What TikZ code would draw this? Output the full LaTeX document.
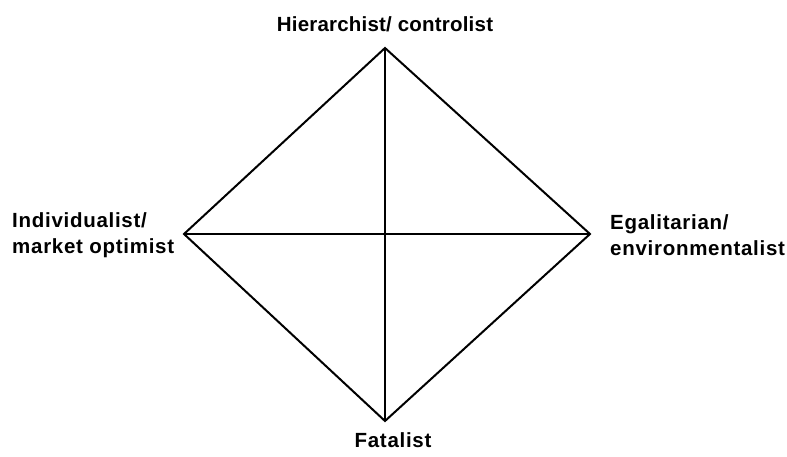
\documentclass[tikz,border=0pt]{standalone}
\usepackage{fontspec}
\setmainfont{Liberation Sans}
\newfontfamily\widebold[LetterSpace=3.5]{Liberation Sans}
\newfontfamily\topbold[LetterSpace=1]{Liberation Sans}
\begin{document}
\begin{tikzpicture}[x=1pt,y=-1pt,
  lbl/.style={font=\fontsize{20.5}{26}\selectfont\widebold\bfseries, inner sep=0pt, align=left},
  toplbl/.style={lbl, font=\fontsize{20.5}{26}\selectfont\topbold\bfseries},
  edge/.style={line width=2pt, line join=miter}]
\useasboundingbox (0,0) rectangle (787,457);
\coordinate (T) at (385,48);
\coordinate (L) at (184,234);
\coordinate (R) at (590,234);
\coordinate (B) at (385,421);
\draw[edge] (T) -- (R) -- (B) -- (L) -- cycle;
\draw[edge] (T) -- (B);
\draw[edge] (L) -- (R);
\node[toplbl, anchor=base] (hier) at (385,32) {Hierarchist/ controlist};
\node[lbl, anchor=base] (fat) at (393,447) {Fatalist};
\node[lbl, anchor=west] (ind) at (12,235) {Individualist/\\market optimist};
\node[lbl, anchor=west] (ega) at (610,235) {Egalitarian/\\environmentalist};
\end{tikzpicture}
\end{document}
